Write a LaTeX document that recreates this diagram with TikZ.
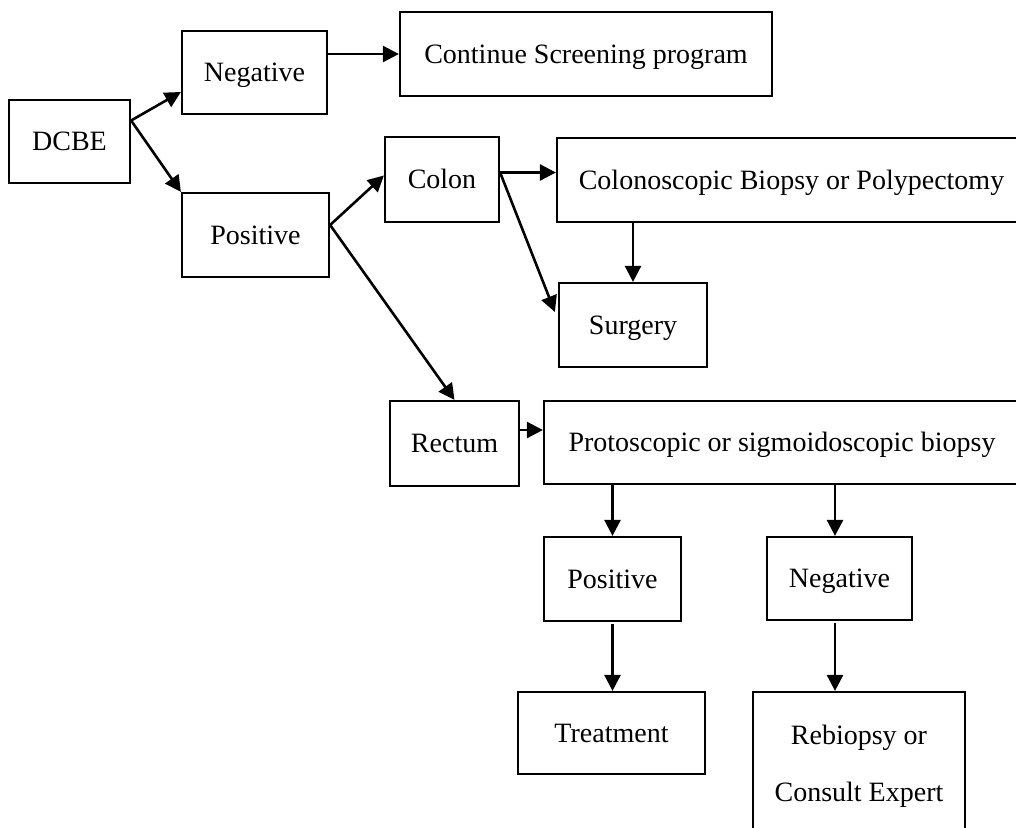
\documentclass[tikz,border=0pt]{standalone}
\usepackage{fontspec}
\setmainfont{Liberation Serif}
\usetikzlibrary{arrows.meta,calc}
\begin{document}
\begin{tikzpicture}[x=1pt,y=-1pt,
  box/.style={draw, line width=2.2pt, inner sep=0pt, align=center,
    font=\fontsize{28}{57}\selectfont, text height=25pt, text depth=7pt},
  twoline/.style={text height=, text depth=},
  arr/.style={line width=2.6pt, -{Triangle[length=16pt,width=16pt]}}]
\useasboundingbox (0,0) rectangle (1016,827);

% boxes
\node[box, minimum width=121pt, minimum height=83pt] (dcbe)  at (69.5,141.5) {DCBE};
\node[box, minimum width=145pt, minimum height=83pt] (neg1)  at (254.5,72.5) {Negative};
\node[box, minimum width=372pt, minimum height=84pt] (cont)  at (586,54) {Continue Screening program};
\node[box, minimum width=147pt, minimum height=84pt] (pos1)  at (255.5,235) {Positive};
\node[box, minimum width=114pt, minimum height=85pt] (colon) at (442,179.5) {Colon};
\node[box, minimum width=469pt, minimum height=84pt] (colbx) at (791.5,180) {Colonoscopic Biopsy or Polypectomy};
\node[box, minimum width=148pt, minimum height=84pt] (surg)  at (633,325) {Surgery};
\node[box, minimum width=129pt, minimum height=85pt] (rect)  at (454.5,443.5) {Rectum};
\node[box, minimum width=476pt, minimum height=83pt] (proto) at (782,442.5) {Protoscopic or sigmoidoscopic biopsy};
\node[box, minimum width=137pt, minimum height=84pt] (pos2)  at (612.5,579) {Positive};
\node[box, minimum width=145pt, minimum height=83pt] (neg2)  at (839.5,578.5) {Negative};
\node[box, minimum width=187pt, minimum height=82pt] (treat) at (611.5,733) {Treatment};
\node[box, twoline, minimum width=212pt, minimum height=148pt] (rebio) at (859,766) {Rebiopsy or\\Consult Expert};

% connector end points
\coordinate (dout) at ($(dcbe.east)+(0,-21)$);
\coordinate (pout) at ($(pos1.east)+(0,-10)$);
\coordinate (cout) at ($(colon.east)+(0,-7)$);
\coordinate (rout) at ($(rect.east)+(0,-13.5)$);
\coordinate (nx)   at ($(neg2.north)+(-4.5,0)$);

% connectors
\draw[arr] (dout) -- ($(neg1.west)+(0,19.5)$);
\draw[arr] (dout) -- (pos1.north west);
\draw[arr] (neg1.east |- cont.west) -- (cont.west);
\draw[arr] (pout) -- ($(colon.west)+(0,-4)$);
\draw[arr] (pout) -- (rect.north);
\draw[arr] (cout) -- (cout -| colbx.west);
\draw[arr] (cout) -- ($(surg.west)+(-3,-13)$);
\draw[arr] (colbx.south -| surg.north) -- (surg.north);
\draw[arr] (rout) -- (rout -| proto.west);
\draw[arr] (proto.south -| pos2.north) -- (pos2.north);
\draw[arr] (nx |- proto.south) -- (nx);
\draw[arr] ($(pos2.south)+(0,2)$) -- (pos2.south |- treat.north);
\draw[arr] ($(nx |- neg2.south)+(0,2)$) -- (nx |- rebio.north);
\end{tikzpicture}
\end{document}
